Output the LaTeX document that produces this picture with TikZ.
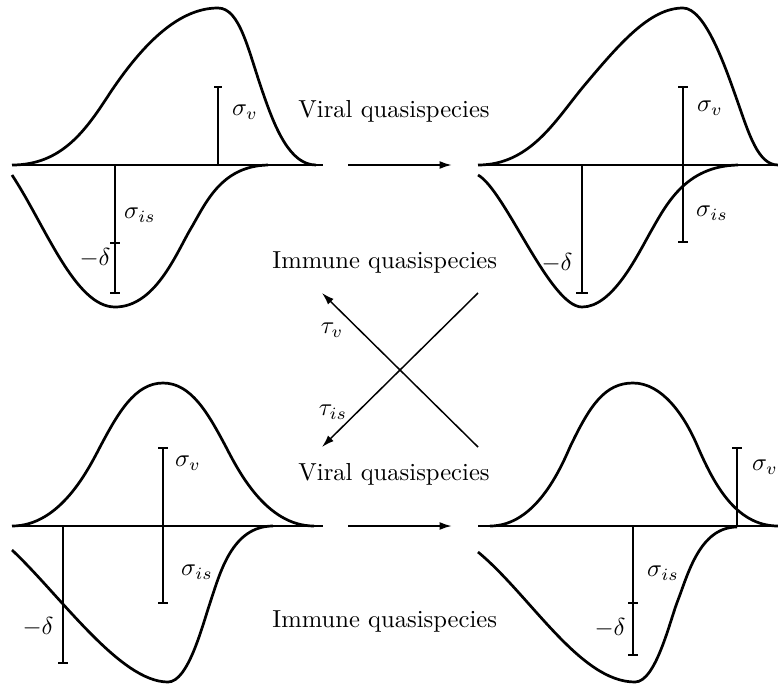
\documentclass[tikz,border=0pt]{standalone}
\usetikzlibrary{arrows.meta}
\begin{document}
\begin{tikzpicture}[x=0.4065pt,y=-0.4065pt,
  curve/.style={line width=1.1pt,line join=round},
  axisline/.style={line width=0.45pt},
  bar/.style={line width=0.8pt},
  thinbar/.style={line width=0.5pt},
  flow/.style={line width=0.8pt,-{Latex[length=5pt,width=3.2pt]}},
  cross/.style={line width=0.6pt,-{Latex[length=5pt,width=3.2pt]}},
  lab/.style={inner sep=0pt},
  txt/.style={inner sep=0pt,anchor=base west}]
\useasboundingbox (0,0) rectangle (778,683);

% ---------- top-left panel ----------
\draw[axisline] (12,165) -- (323,165);
\draw[curve] (12,165) .. controls (62,165) and (86,130) .. (110,93)
  .. controls (150,33) and (185,8) .. (218,8)
  .. controls (240,8) and (248,50) .. (263,93)
  .. controls (275,128) and (290,165) .. (316,165);
\draw[curve] (12,175) .. controls (45,225) and (75,307) .. (115,307)
  .. controls (155,307) and (176,254) .. (190,230)
  .. controls (205,205) and (220,166) .. (268,165);
\draw[thinbar] (218,165) -- (218,87) (214,87) -- (222,87);
\draw[bar] (115,165) -- (115,293) (110,243) -- (120,243) (110,293) -- (120,293);
\node[lab] (tlsv) at (245,112) {$\sigma_v$};
\node[lab] (tlsi) at (140,215) {$\sigma_{is}$};
\node[lab] (tld) at (95,258) {$-\delta$};

% ---------- top-right panel ----------
\draw[axisline] (478,165) -- (778,165);
\draw[curve] (478,165) .. controls (530,165) and (555,121) .. (583,87)
  .. controls (620,43) and (650,8) .. (683,8)
  .. controls (705,8) and (725,66) .. (737,100)
  .. controls (749,134) and (758,165) .. (778,165);
\draw[curve] (478,175) .. controls (505,190) and (550,307) .. (582,307)
  .. controls (612,307) and (636,258) .. (650,233)
  .. controls (666,205) and (685,166) .. (738,165);
\draw[bar] (683,87) -- (683,242) (678,87) -- (688,87) (678,242) -- (688,242);
\draw[bar] (582,165) -- (582,293) (576,293) -- (588,293);
\node[lab] (trsv) at (710,108) {$\sigma_v$};
\node[lab] (trsi) at (712,213) {$\sigma_{is}$};
\node[lab] (trd) at (557,263) {$-\delta$};

% ---------- bottom-left panel ----------
\draw[axisline] (12,526) -- (323,526);
\draw[curve] (12,526) .. controls (60,526) and (88,470) .. (100,447)
  .. controls (118,413) and (135,383) .. (163,383)
  .. controls (191,383) and (208,413) .. (226,447)
  .. controls (238,470) and (266,526) .. (314,526);
\draw[curve] (12,550) .. controls (60,595) and (120,682) .. (168,682)
  .. controls (188,682) and (202,627) .. (210,603)
  .. controls (220,573) and (232,526) .. (273,526);
\draw[bar] (163,448) -- (163,603) (158,448) -- (168,448) (158,603) -- (168,603);
\draw[bar] (63,526) -- (63,663) (58,663) -- (68,663);
\node[lab] (blsv) at (188,463) {$\sigma_v$};
\node[lab] (blsi) at (197,572) {$\sigma_{is}$};
\node[lab] (bld) at (38,627) {$-\delta$};

% ---------- bottom-right panel ----------
\draw[axisline] (478,526) -- (778,526);
\draw[curve] (490,526) .. controls (535,526) and (560,470) .. (570,447)
  .. controls (590,405) and (605,383) .. (633,383)
  .. controls (662,383) and (684,415) .. (697,445)
  .. controls (713,482) and (735,526) .. (778,526);
\draw[curve] (478,552) .. controls (530,595) and (580,682) .. (635,682)
  .. controls (656,682) and (670,620) .. (678,600)
  .. controls (688,574) and (700,527) .. (737,527);
\draw[bar] (737,526) -- (737,448) (732,448) -- (742,448);
\draw[bar] (633,526) -- (633,655) (628,603) -- (638,603) (628,655) -- (638,655);
\node[lab] (brsv) at (765,467) {$\sigma_v$};
\node[lab] (brsi) at (663,573) {$\sigma_{is}$};
\node[lab] (brd) at (610,628) {$-\delta$};

% ---------- texts ----------
\node[txt] (viral1) at (298,117) {Viral quasispecies};
\node[txt] (immune1) at (272,268) {Immune quasispecies};
\node[txt] (viral2) at (298,480) {Viral quasispecies};
\node[txt] (immune2) at (272,627) {Immune quasispecies};

% ---------- arrows ----------
\coordinate (ta) at (348,165);
\coordinate (tb) at (452,165);
\coordinate (ba) at (348,526);
\coordinate (bb) at (452,526);
\draw[flow] (ta) -- (tb);
\draw[flow] (ba) -- (bb);

\coordinate (xtl) at (322,293);
\coordinate (xtr) at (478,293);
\coordinate (xbl) at (322,447);
\coordinate (xbr) at (478,447);
\draw[cross] (xbr) -- (xtl);
\draw[cross] (xtr) -- (xbl);
\node[lab] (tauv) at (332,330) {$\tau_v$};
\node[lab] (tauis) at (333,412) {$\tau_{is}$};
\end{tikzpicture}
\end{document}
